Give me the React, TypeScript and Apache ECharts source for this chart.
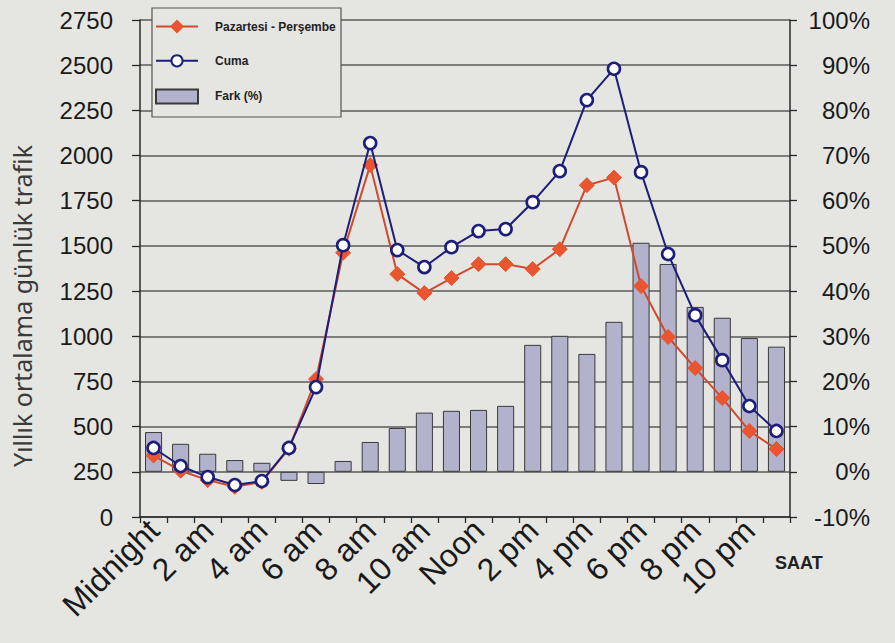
import React, { useEffect, useRef } from "react";
import * as echarts from "echarts";

const hours = [
  "Midnight", "1 am", "2 am", "3 am", "4 am", "5 am", "6 am", "7 am", "8 am", "9 am", "10 am", "11 am",
  "Noon", "1 pm", "2 pm", "3 pm", "4 pm", "5 pm", "6 pm", "7 pm", "8 pm", "9 pm", "10 pm", "11 pm",
];
const monThu = [340, 256, 204, 167, 194, 378, 763, 1462, 1947, 1344, 1239, 1322, 1399, 1399, 1372, 1482, 1836, 1878, 1278, 996, 824, 658, 476, 376];
const friday = [382, 282, 221, 177, 199, 382, 719, 1504, 2069, 1477, 1383, 1493, 1582, 1593, 1742, 1914, 2307, 2480, 1908, 1455, 1117, 868, 614, 476];
const diffPct = [8.8, 6.2, 4.0, 2.6, 2.0, -2.0, -2.7, 2.4, 6.6, 9.7, 13.1, 13.5, 13.7, 14.6, 28.1, 30.1, 26.1, 33.2, 50.7, 46.0, 36.5, 34.1, 29.6, 27.7];

const seriesNames = ["Pazartesi - Perşembe", "Cuma", "Fark (%)"];
const yTitle = "Yıllık ortalama günlük trafik";
const xTitle = "SAAT";

export default function App() {
  const ref = useRef<HTMLDivElement>(null);
  useEffect(() => {
    document.body.style.margin = "0";
    if (!ref.current) return;
    const chart = echarts.init(ref.current, null, { renderer: "svg" });
    const bg = "#e5e5e2";
    const font = "'Liberation Sans', Arial, sans-serif";
    chart.setOption({
      animation: false,
      backgroundColor: bg,
      grid: { left: 140, right: 105, top: 20, bottom: 126 },
      legend: {
        orient: "vertical",
        left: 155,
        top: 20,
        itemWidth: 42,
        itemHeight: 14,
        itemGap: 21,
        padding: 0,
        z: 6,
        textStyle: { fontFamily: font, fontSize: 12, fontWeight: "bold", color: "#222", padding: [0, 0, 0, 12] },
        data: [
          { name: seriesNames[0] },
          { name: seriesNames[1] },
          { name: seriesNames[2], icon: "rect" },
        ],
      },
      graphic: [
        {
          type: "rect",
          z: 5,
          shape: { x: 152, y: 8, width: 189, height: 109 },
          style: { fill: bg, stroke: "#555", lineWidth: 1.2 },
        },
        {
          type: "text",
          z: 5,
          x: 22,
          y: 306,
          rotation: Math.PI / 2,
          style: {
            text: yTitle,
            fontFamily: "'Noto Sans', 'Open Sans', sans-serif",
            fontSize: 25,
            fill: "#3a3a3a",
            align: "center",
            verticalAlign: "middle",
          },
        },
        {
          type: "text",
          z: 5,
          x: 775,
          y: 563,
          style: {
            text: xTitle,
            fontFamily: font,
            fontSize: 18,
            fontWeight: "bold",
            fill: "#222",
            align: "left",
            verticalAlign: "middle",
          },
        },
      ],
      xAxis: {
        type: "category",
        data: hours,
        boundaryGap: true,
        axisLine: { lineStyle: { color: "#2a2a2a", width: 1.5 } },
        axisTick: { show: true, interval: 0, length: 6, lineStyle: { color: "#2a2a2a", width: 1.3 } },
        axisLabel: {
          interval: 1,
          rotate: 45,
          margin: 8,
          fontFamily: font,
          fontSize: 32,
          color: "#1a1a1a",
        },
      },
      yAxis: [
        {
          type: "value",
          min: 0,
          max: 2750,
          interval: 250,
          axisLine: { show: true, lineStyle: { color: "#2a2a2a", width: 1.5 } },
          axisTick: { show: true, length: 8, lineStyle: { color: "#2a2a2a", width: 1.3 } },
          axisLabel: {
            formatter: (v: number) => String(v),
            margin: 27,
            fontFamily: font,
            fontSize: 24,
            color: "#1a1a1a",
          },
          splitLine: { show: true, lineStyle: { color: "#5a5a5a", width: 1.5 } },
        },
        {
          type: "value",
          min: -10,
          max: 100,
          interval: 10,
          position: "right",
          axisLine: { show: true, lineStyle: { color: "#2a2a2a", width: 1.5 } },
          axisTick: { show: true, length: 7, lineStyle: { color: "#2a2a2a", width: 1.3 } },
          axisLabel: {
            formatter: "{value}%",
            align: "right",
            margin: 80,
            fontFamily: font,
            fontSize: 24,
            color: "#1a1a1a",
          },
          splitLine: { show: false },
        },
      ],
      series: [
        {
          name: seriesNames[2],
          type: "bar",
          yAxisIndex: 1,
          data: diffPct,
          barWidth: "63%",
          itemStyle: { color: "#b2b2cc", borderColor: "#3a3a3a", borderWidth: 1 },
          z: 2,
        },
        {
          name: seriesNames[0],
          type: "line",
          yAxisIndex: 0,
          data: monThu,
          symbol: "diamond",
          symbolSize: 15,
          lineStyle: { color: "#cf4a2e", width: 2 },
          itemStyle: { color: "#e8552f", borderColor: "#e8552f", borderWidth: 1 },
          z: 3,
        },
        {
          name: seriesNames[1],
          type: "line",
          yAxisIndex: 0,
          data: friday,
          symbol: "circle",
          symbolSize: 12,
          lineStyle: { color: "#1d1d7a", width: 2 },
          itemStyle: { color: "#ffffff", borderColor: "#1d1d7a", borderWidth: 2.6 },
          z: 4,
        },
      ],
    });
    return () => chart.dispose();
  }, []);
  return <div ref={ref} style={{ width: 895, height: 643 }} />;
}
